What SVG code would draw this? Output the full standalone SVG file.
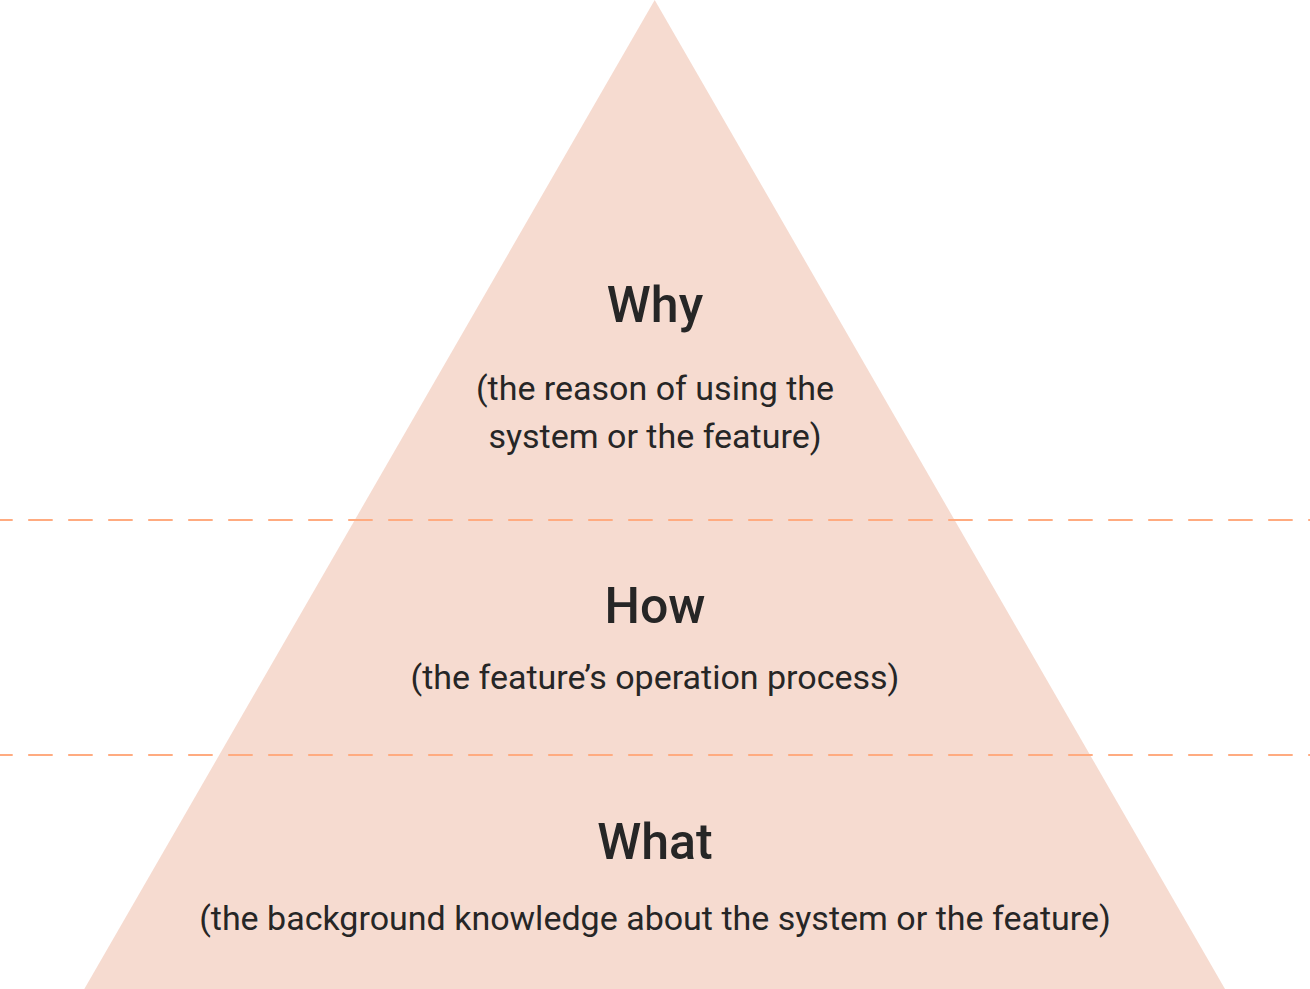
<svg xmlns="http://www.w3.org/2000/svg" width="1310" height="989" viewBox="0 0 1310 989">
<style>
.title{font-family:Roboto,"Liberation Sans",sans-serif;font-weight:500;font-size:50px;fill:#262626;text-anchor:middle}
.sub{font-family:Roboto,"Liberation Sans",sans-serif;font-weight:400;font-size:34px;fill:#262626;text-anchor:middle}
.dash{stroke:#FFAB80;stroke-width:2;stroke-dasharray:24.5 15.5;stroke-dashoffset:11.8;fill:none}
</style>
<rect width="1310" height="989" fill="#FFFFFF"/>
<polygon id="pyramid" points="654.7,0 1225,989 84.3,989" fill="#F6DBD0"/>
<g id="dividers">
<line class="dash" x1="0" y1="520" x2="1310" y2="520"/>
<line class="dash" x1="0" y1="755" x2="1310" y2="755"/>
</g>
<g id="why">
<text class="title" x="655" y="322">Why</text>
<text class="sub" x="655" y="400">(the reason of using the</text>
<text class="sub" x="655" y="448">system or the feature)</text>
</g>
<g id="how">
<text class="title" x="655" y="623">How</text>
<text class="sub" x="655" y="689">(the feature’s operation process)</text>
</g>
<g id="what">
<text class="title" x="655" y="859">What</text>
<text class="sub" x="655" y="930">(the background knowledge about the system or the feature)</text>
</g>
</svg>
